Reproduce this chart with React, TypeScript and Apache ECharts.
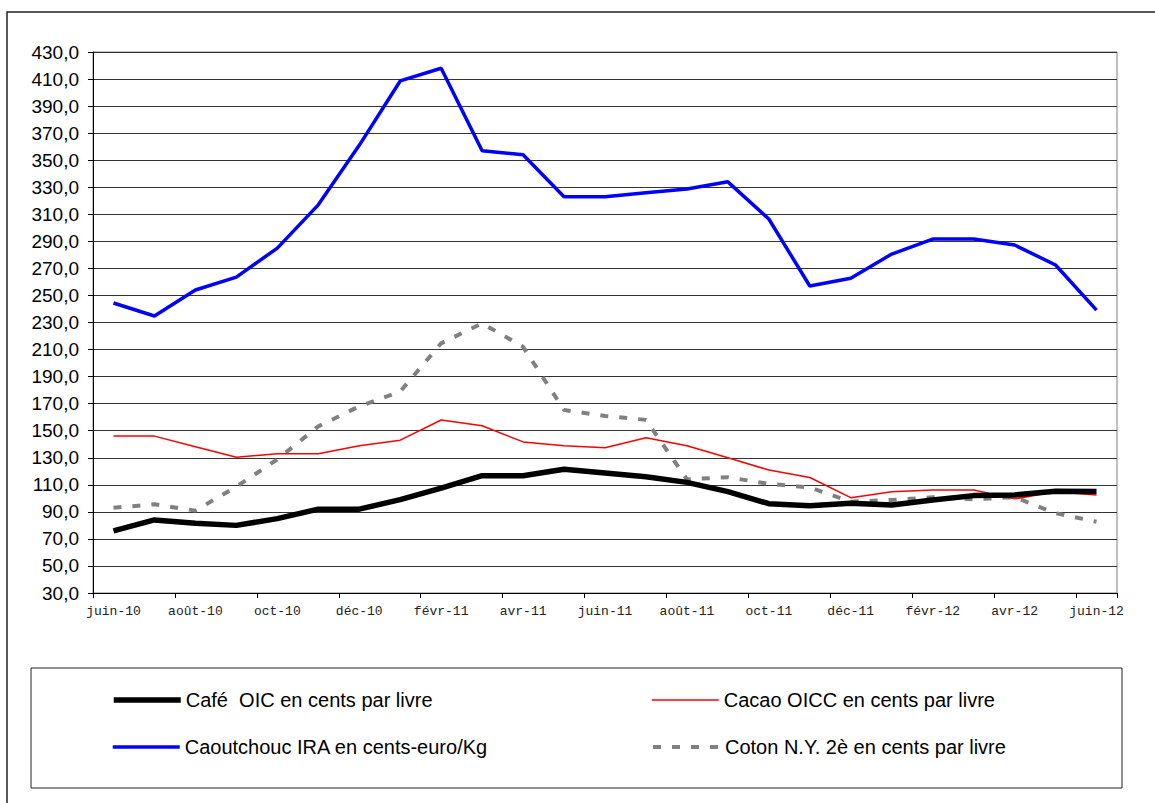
import React, { useEffect, useRef } from "react";
import * as echarts from "echarts";

const months = [
  "juin-10", "juil-10", "août-10", "sept-10", "oct-10", "nov-10", "déc-10",
  "janv-11", "févr-11", "mars-11", "avr-11", "mai-11", "juin-11", "juil-11",
  "août-11", "sept-11", "oct-11", "nov-11", "déc-11", "janv-12", "févr-12",
  "mars-12", "avr-12", "mai-12", "juin-12",
];

const cafeName = "Café  OIC en cents par livre";
const cacaoName = "Cacao OICC en cents par livre";
const caoutchoucName = "Caoutchouc IRA en cents-euro/Kg";
const cotonName = "Coton N.Y. 2è en cents par livre";

const cafe = [76, 84, 81.5, 80, 85, 92, 92, 99, 107.5, 116.7, 116.7, 121.5, 118.8, 116, 111.8, 105, 96, 94.5, 96.3, 95, 98.8, 102, 102.5, 105.2, 105];
const cacao = [146, 146, 138.2, 130.3, 133, 133, 138.9, 143, 157.9, 153.7, 141.7, 138.9, 137.4, 144.8, 138.9, 130, 120.9, 115.4, 100.5, 104.9, 106.2, 106.2, 99.6, 104.9, 102.5];
const caoutchouc = [244.4, 234.8, 254, 263.6, 285, 317, 361, 408.6, 418, 357, 354, 323, 323, 326, 328.7, 334, 306.5, 257, 262.7, 280.6, 291.7, 291.7, 287.3, 272.5, 239.2];
const coton = [93, 95.6, 90.9, 108.6, 128.8, 153.2, 168, 179, 214.6, 229.4, 212, 165.3, 160.9, 158, 114, 115.6, 110.7, 108, 97.5, 98.8, 100.8, 99.3, 100.8, 89, 82.7];

const yMin = 30;
const yMax = 430;
const yStep = 20;

export default function App() {
  const ref = useRef<HTMLDivElement>(null);

  useEffect(() => {
    if (!ref.current) return;
    const chart = echarts.init(ref.current, null, { renderer: "svg" });
    const legendText = {
      fontFamily: "Liberation Sans, Arial, sans-serif",
      fontSize: 20,
      color: "#000",
    };
    const mkLegend = (name: string, left: number, top: number, lineStyle: any) => ({
      data: [name],
      left,
      top,
      orient: "horizontal",
      itemWidth: 67,
      itemHeight: 20,
      itemGap: 0,
      padding: 0,
      textStyle: legendText,
      selectedMode: false,
      itemStyle: { color: "transparent", borderColor: "transparent", borderWidth: 0, opacity: 0 },
      lineStyle,
    });
    chart.setOption({
      animation: false,
      backgroundColor: "#fff",
      graphic: [
        {
          type: "rect",
          shape: { x: 7, y: 12, width: 1170, height: 820 },
          style: { fill: "none", stroke: "#222", lineWidth: 1.5 },
          silent: true,
          z: -10,
        },
        {
          type: "rect",
          shape: { x: 31, y: 668, width: 1091, height: 120 },
          style: { fill: "none", stroke: "#222", lineWidth: 1 },
          silent: true,
          z: -10,
        },
      ],
      legend: [
        mkLegend(cafeName, 111, 690, { width: 5.5, color: "#000" }),
        mkLegend(cacaoName, 651, 690, { width: 1.5, color: "#ff0000" }),
        mkLegend(caoutchoucName, 111, 737, { width: 3.5, color: "#0000ff" }),
        mkLegend(cotonName, 651, 737, { width: 4, color: "#808080", type: [8, 11] }),
      ],
      grid: {
        left: 93,
        top: 52,
        width: 1024,
        height: 541,
        show: true,
        borderColor: "#808080",
        borderWidth: 1,
        backgroundColor: "#fff",
      },
      xAxis: {
        type: "category",
        data: months,
        boundaryGap: true,
        axisLine: { lineStyle: { color: "#000", width: 1 } },
        axisTick: { show: true, interval: 1, length: 5, lineStyle: { color: "#000" } },
        axisLabel: {
          interval: 1,
          margin: 12,
          fontFamily: "Liberation Mono, Courier New, monospace",
          fontSize: 13,
          color: "#222",
        },
        splitLine: { show: false },
      },
      yAxis: {
        type: "value",
        min: yMin,
        max: yMax,
        interval: yStep,
        axisLine: { show: true, lineStyle: { color: "#000", width: 1 } },
        axisTick: { show: true, length: 5, lineStyle: { color: "#000" } },
        axisLabel: {
          margin: 14,
          fontFamily: "Liberation Sans, Arial, sans-serif",
          fontSize: 19,
          color: "#000",
          formatter: (v: number) => v.toFixed(1).replace(".", ","),
        },
        splitLine: { show: true, lineStyle: { color: "#333", width: 1 } },
      },
      series: [
        {
          name: caoutchoucName,
          type: "line",
          data: caoutchouc,
          symbol: "none",
          lineStyle: { color: "#0000ff", width: 3.5 },
          itemStyle: { color: "#0000ff" },
          z: 3,
        },
        {
          name: cotonName,
          type: "line",
          data: coton,
          symbol: "none",
          lineStyle: { color: "#808080", width: 4, type: [8, 11] },
          itemStyle: { color: "#808080" },
          z: 4,
        },
        {
          name: cacaoName,
          type: "line",
          data: cacao,
          symbol: "none",
          lineStyle: { color: "#ff0000", width: 1.5 },
          itemStyle: { color: "#ff0000" },
          z: 5,
        },
        {
          name: cafeName,
          type: "line",
          data: cafe,
          symbol: "none",
          lineStyle: { color: "#000000", width: 5.5 },
          itemStyle: { color: "#000000" },
          z: 6,
        },
      ],
    });
    return () => chart.dispose();
  }, []);

  return (
    <div
      ref={ref}
      style={{ position: "fixed", left: 0, top: 0, width: 1155, height: 803, background: "#fff" }}
    />
  );
}
